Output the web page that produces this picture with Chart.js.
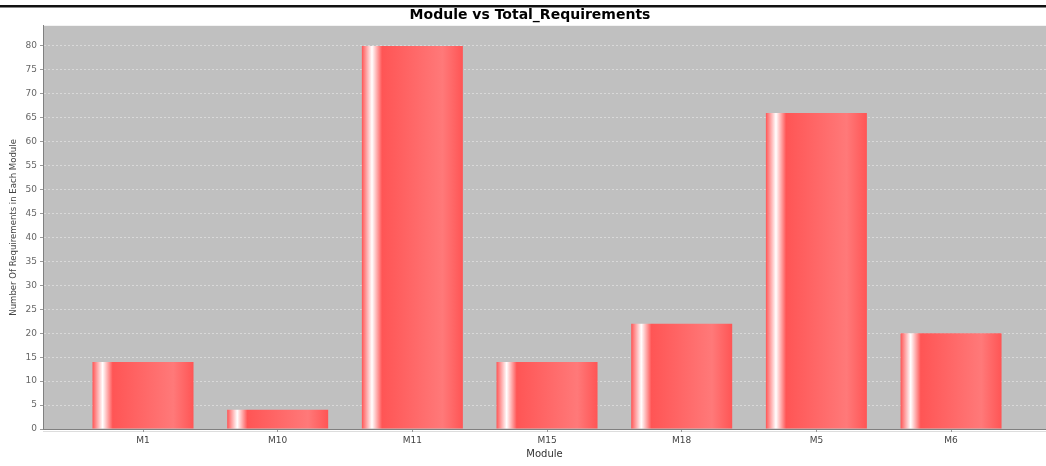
<!DOCTYPE html>
<html>
<head>
<meta charset="utf-8">
<script src="https://cdn.jsdelivr.net/npm/chart.js@4"></script>
<style>
html,body{margin:0;padding:0;background:#fff;}
#wrap{width:1046px;height:466px;position:relative;}
</style>
</head>
<body>
<div id="wrap"><canvas id="c" width="1046" height="466"></canvas></div>
<script>
const categories = ["M1", "M10", "M11", "M15", "M18", "M5", "M6"];
const requirements = [14, 4, 80, 14, 22, 66, 20];
const chartTitle = "Module vs Total_Requirements";
const xTitle = "Module";
const yTitle = "Number Of Requirements in Each Module";

const baseColor = "#ff5555";
const brightColor = "#ff7979";

function barGradient(ctx) {
  if (ctx.type !== 'data') return baseColor;
  const chart = ctx.chart;
  const xs = chart.scales.x;
  if (!xs || !chart.chartArea) return baseColor;
  const c = xs.getPixelForValue(ctx.dataIndex);
  const step = Math.abs(xs.getPixelForValue(1) - xs.getPixelForValue(0));
  const w = step * 0.75;
  const x0 = c - w / 2, x1 = c + w / 2;
  if (!isFinite(x0) || !isFinite(x1)) return baseColor;
  const g = chart.ctx.createLinearGradient(x0, 0, x1, 0);
  g.addColorStop(0, baseColor);
  g.addColorStop(0.10, "#ffffff");
  g.addColorStop(0.20, baseColor);
  g.addColorStop(0.80, brightColor);
  g.addColorStop(1, baseColor);
  return g;
}

const decor = {
  id: 'decor',
  beforeDraw(chart) {
    const {ctx, chartArea: a} = chart;
    ctx.save();
    ctx.fillStyle = '#c0c0c0';
    ctx.fillRect(a.left, a.top, a.right - a.left, a.bottom - a.top);
    ctx.fillStyle = '#111111';
    ctx.fillRect(0, 5, chart.width, 2);
    ctx.fillStyle = '#888888';
    ctx.fillRect(0, 7, chart.width, 1);
    ctx.fillStyle = '#dddddd';
    ctx.fillRect(a.left, a.bottom + 2, a.right - a.left, 1);
    ctx.restore();
  }
};

new Chart(document.getElementById('c'), {
  type: 'bar',
  data: {
    datasets: [{
      label: 'Total_Requirements',
      data: requirements.map((v, i) => ({x: i, y: v})),
      backgroundColor: barGradient,
      borderWidth: 0,
      barPercentage: 0.75,
      categoryPercentage: 1.0
    }]
  },
  options: {
    responsive: false,
    animation: false,
    devicePixelRatio: 1,
    layout: {padding: {left: 14, right: 0, top: 0, bottom: 0}},
    plugins: {
      legend: {display: false},
      tooltip: {enabled: false},
      title: {
        display: true,
        text: chartTitle,
        color: '#000000',
        font: {family: 'DejaVu Sans', size: 14, weight: 'bold'},
        padding: {top: 7, bottom: 2}
      }
    },
    scales: {
      x: {
        type: 'linear',
        offset: false,
        min: -0.7426,
        max: 6.705,
        afterBuildTicks(s) { s.ticks = categories.map((_, i) => ({value: i})); },
        afterFit(s) { s.height = 37; },
        ticks: {
          callback: (v) => categories[v] ?? '',
          color: '#444444',
          font: {family: 'DejaVu Sans', size: 9},
          padding: 3,
          maxRotation: 0,
          autoSkip: false
        },
        grid: {offset: false, drawOnChartArea: false, drawTicks: true, tickLength: 3, color: '#999999'},
        border: {display: true, color: '#808080', width: 1},
        title: {
          display: true,
          text: xTitle,
          color: '#333333',
          font: {family: 'DejaVu Sans', size: 10},
          padding: {top: 0, bottom: 6}
        }
      },
      y: {
        type: 'linear',
        min: 0,
        max: 84.2,
        afterFit(s) { s.width = 29; },
        ticks: {
          stepSize: 5,
          includeBounds: false,
          color: '#666666',
          font: {family: 'DejaVu Sans', size: 9},
          padding: 3
        },
        grid: {color: '#d9d9d9', tickColor: '#999999', tickLength: 3, lineWidth: 1},
        border: {display: true, color: '#808080', width: 1, dash: [2, 2]},
        title: {
          display: true,
          text: yTitle,
          color: '#444444',
          font: {family: 'DejaVu Sans Condensed', size: 9.5},
          padding: {top: -6, bottom: 0}
        }
      }
    }
  },
  plugins: [decor]
});
</script>
</body>
</html>
